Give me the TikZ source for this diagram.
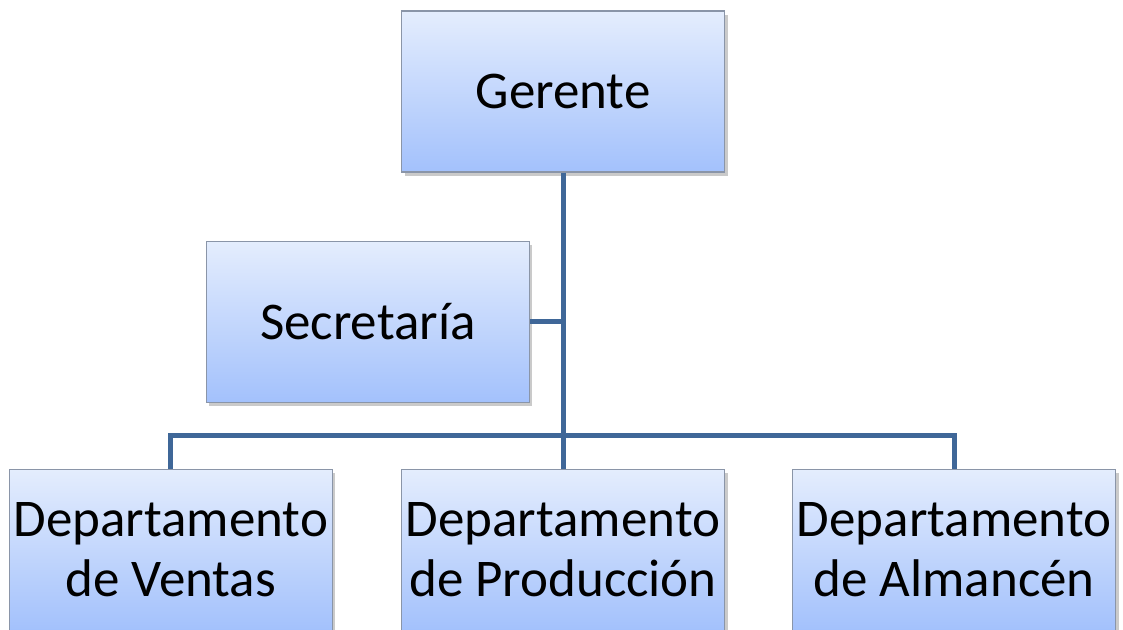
\documentclass[tikz,border=0pt]{standalone}
\usepackage{fontspec}
\setmainfont{Carlito}
\usetikzlibrary{positioning,shadows}

\definecolor{boxtop}{HTML}{E4EDFD}
\definecolor{boxbot}{HTML}{A3C1FC}
\definecolor{boxline}{HTML}{8A95A8}
\definecolor{orgline}{HTML}{3F6798}

\tikzset{
    orgbox/.style={draw=boxline,line width=1.2pt,top color=boxtop,bottom color=boxbot,
        minimum width=323pt,minimum height=161pt,inner sep=0pt,align=center,
        font=\fontsize{53}{60}\selectfont,
        drop shadow={shadow xshift=3pt,shadow yshift=-4pt,opacity=0.35,fill=black!60}},
    orgedge/.style={draw=orgline,line width=5pt}
}

\begin{document}
\begin{tikzpicture}[x=1pt,y=1pt]
    \useasboundingbox (0,0) rectangle (1123,-629);
    \clip (0,0) rectangle (1123,-629);

    \draw
        node[orgbox] (ger) at (563,-91.5) {Gerente}
        node[orgbox,below left=68pt and -129pt of ger] (sec) {Secretaría}
        node[orgbox,below=296pt of ger] (prod) {Departamento\\de Producción}
        node[orgbox,left=68pt of prod] (ven) {Departamento\\de Ventas}
        node[orgbox,right=67pt of prod] (alm) {Departamento\\de Almancén}
    ;

    \draw[orgedge] (ger.south) -- (prod.north);
    \draw[orgedge] (sec.east) -- (sec.east -| ger.south);
    \draw[orgedge] (ven.north) -- ++(0,33pt) -| (alm.north);
\end{tikzpicture}
\end{document}
